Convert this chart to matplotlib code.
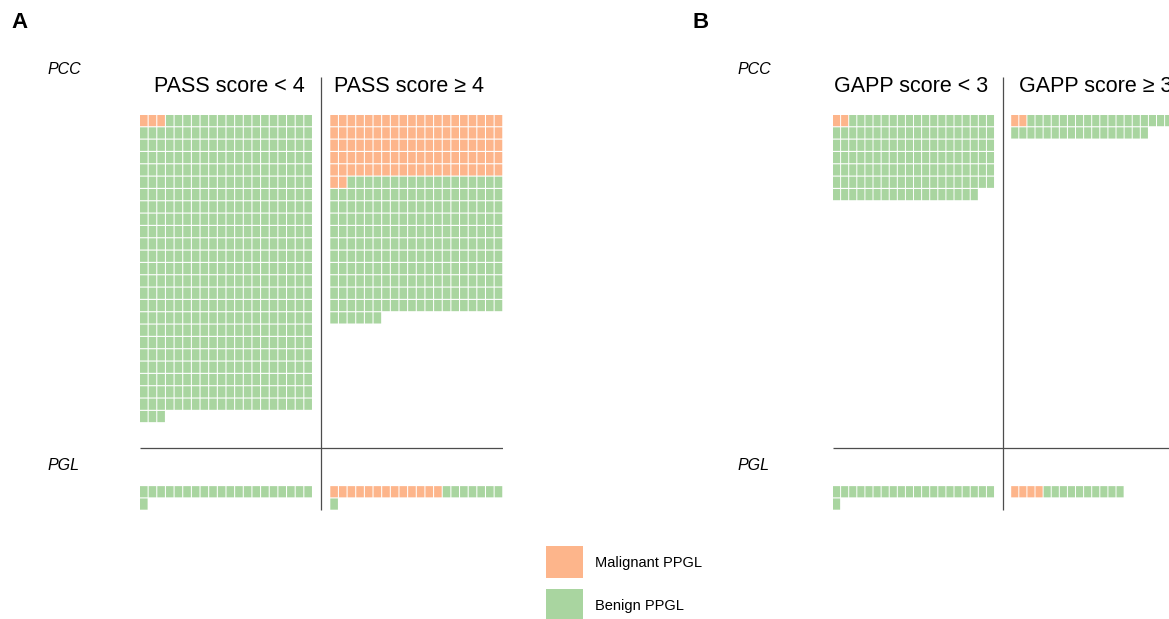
import matplotlib.pyplot as plt
from matplotlib.patches import Rectangle

plt.rcParams['font.family'] = ['Liberation Sans', 'DejaVu Sans']

# counts per group: (malignant, benign)
pass_groups = ['PASS score < 4', 'PASS score ≥ 4']
pass_pcc_malignant = [3, 102]
pass_pcc_benign = [480, 224]
pass_pgl_malignant = [0, 13]
pass_pgl_benign = [21, 8]

gapp_groups = ['GAPP score < 3', 'GAPP score ≥ 3']
gapp_pcc_malignant = [2, 2]
gapp_pcc_benign = [136, 35]
gapp_pgl_malignant = [0, 4]
gapp_pgl_benign = [21, 10]

legend_labels = ['Malignant PPGL', 'Benign PPGL']

MAL = '#FDB58B'
BEN = '#A9D5A0'
NCOL = 20
W, H = 1169, 619

fig = plt.figure(figsize=(11.69, 6.19), dpi=100)


def waffle(ax, n_mal, n_ben, col0, row0):
    colors = [MAL] * n_mal + [BEN] * n_ben
    for i, c in enumerate(colors):
        r, k = divmod(i, NCOL)
        ax.add_patch(Rectangle((col0 + k, row0 + r), 0.88, 0.91, facecolor=c,
                               edgecolor='none', snap=False))


def panel(left_px, pitch_x, groups, pcc_mal, pcc_ben, pgl_mal, pgl_ben, title_x, letter, letter_x, label_x):
    pitch_y = 12.33
    top_px = 115
    rmin, rmax = -5, 33
    ax = fig.add_axes([left_px / W, 1 - (top_px + rmax * pitch_y) / H,
                       42 * pitch_x / W, (rmax - rmin) * pitch_y / H])
    ax.set_xlim(0, 42)
    ax.set_ylim(rmax, rmin)
    ax.axis('off')
    for g in range(2):
        col0 = 0 if g == 0 else 22
        waffle(ax, pcc_mal[g], pcc_ben[g], col0, 0)
        waffle(ax, pgl_mal[g], pgl_ben[g], col0, 30.1)
        ax.text(title_x[g], -2.3, groups[g], ha='center', va='center', fontsize=15.5)
    ax.plot([20.95, 20.95], [-3.1, 32.0], color='#4d4d4d', lw=0.9, solid_capstyle='butt')
    ax.plot([0, 42], [27.0, 27.0], color='#4d4d4d', lw=0.9, solid_capstyle='butt')
    fig.text(label_x / W, 1 - 70 / H, 'PCC', style='italic', fontsize=11.5, va='center')
    fig.text(label_x / W, 1 - 465 / H, 'PGL', style='italic', fontsize=11.5, va='center')
    fig.text(letter_x / W, 1 - 23 / H, letter, fontsize=16, fontweight='bold', va='center')


panel(140, 8.65, pass_groups, pass_pcc_malignant, pass_pcc_benign,
      pass_pgl_malignant, pass_pgl_benign, [10.3, 31.1], 'A', 11, 48)
panel(833, 8.1, gapp_groups, gapp_pcc_malignant, gapp_pcc_benign,
      gapp_pgl_malignant, gapp_pgl_benign, [9.6, 32.4], 'B', 692, 737)

# legend
for i, (lab, c) in enumerate(zip(legend_labels, [MAL, BEN])):
    y0 = 546 + i * 43
    fig.patches.append(Rectangle((546 / W, 1 - (y0 + 32) / H), 37 / W, 32 / H,
                                 facecolor=c, edgecolor='none', transform=fig.transFigure))
    fig.text(595 / W, 1 - (y0 + 17) / H, lab, fontsize=10.5, va='center')

fig.savefig('out.png', dpi=100)
